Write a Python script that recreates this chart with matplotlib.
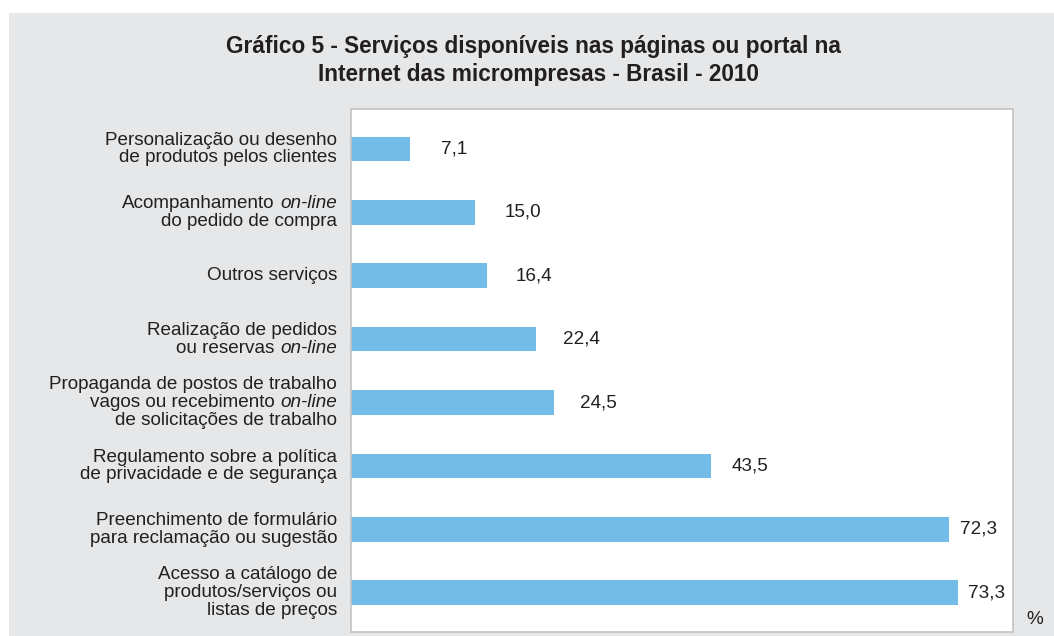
import matplotlib.pyplot as plt
from matplotlib.patches import Rectangle

plt.rcParams['font.family'] = ['Liberation Sans', 'DejaVu Sans']

# category labels: each line is a list of (text, italic) pieces
labels = [
    [[("Personalização ou desenho", False)], [("de produtos pelos clientes", False)]],
    [[("Acompanhamento ", False), ("on-line", True)], [("do pedido de compra", False)]],
    [[("Outros serviços", False)]],
    [[("Realização de pedidos", False)], [("ou reservas ", False), ("on-line", True)]],
    [[("Propaganda de postos de trabalho", False)],
     [("vagos ou recebimento ", False), ("on-line", True)],
     [("de solicitações de trabalho", False)]],
    [[("Regulamento sobre a política", False)], [("de privacidade e de segurança", False)]],
    [[("Preenchimento de formulário", False)], [("para reclamação ou sugestão", False)]],
    [[("Acesso a catálogo de", False)], [("produtos/serviços ou", False)], [("listas de preços", False)]],
]
values = [7.1, 15.0, 16.4, 22.4, 24.5, 43.5, 72.3, 73.3]
value_text = ["7,1", "15,0", "16,4", "22,4", "24,5", "43,5", "72,3", "73,3"]

W, H = 1054, 636
fig = plt.figure(figsize=(W / 100, H / 100), dpi=100)
fig.patch.set_facecolor('white')
# grey panel
fig.patches.append(Rectangle((9 / W, 0), 1 - 9 / W, 1 - 13 / H, transform=fig.transFigure,
                             facecolor='#e6e7e8', edgecolor='none', zorder=-10))

ax = fig.add_axes([351 / W, (H - 632) / H, (1013 - 351) / W, (632 - 109) / H])
ax.set_facecolor('white')
for s in ax.spines.values():
    s.set_color('#c4c4c4')
    s.set_linewidth(1.2)

ypos = list(range(len(values)))
ax.barh(ypos, values, height=0.39, color='#74bce8')
ax.set_xlim(0, 80)
ax.set_ylim(7.62, -0.63)
ax.set_xticks([])
ax.set_yticks([])

fs = 13.6
for y, v, t in zip(ypos, values, value_text):
    ax.text(0.962 * v + 4.1, y, t, ha='left', va='center', fontsize=fs, color='#231f20')

# category labels, right aligned left of the plot area
line_gap = 12.8  # points
for y, lines in zip(ypos, labels):
    n = len(lines)
    for i, pieces in enumerate(lines):
        dy = -(i - (n - 1) / 2) * line_gap
        prev = None
        for text, ital in reversed(pieces):
            style = 'italic' if ital else 'normal'
            if prev is None:
                prev = ax.annotate(text.rstrip(), xy=(0, y), xycoords=('axes fraction', 'data'),
                                   xytext=(-10, dy), textcoords='offset points',
                                   ha='right', va='center', fontsize=fs, style=style,
                                   color='#231f20', annotation_clip=False)
            else:
                prev = ax.annotate(text.rstrip(), xy=(0, 0), xycoords=prev,
                                   xytext=(-4, 0), textcoords='offset points',
                                   ha='right', va='bottom', fontsize=fs, style=style,
                                   color='#231f20', annotation_clip=False)

fig.text(533 / W, 1 - 46 / H, "Gráfico 5 - Serviços disponíveis nas páginas ou portal na",
         ha='center', va='center', fontsize=16.3, fontweight='bold', color='#231f20')
fig.text(538 / W, 1 - 75 / H, "Internet das micrompresas - Brasil - 2010",
         ha='center', va='center', fontsize=16.3, fontweight='bold', color='#231f20')
fig.text(1035 / W, 1 - 620 / H, "%", ha='center', va='center', fontsize=fs, color='#231f20')

fig.savefig('out.png', dpi=100)
